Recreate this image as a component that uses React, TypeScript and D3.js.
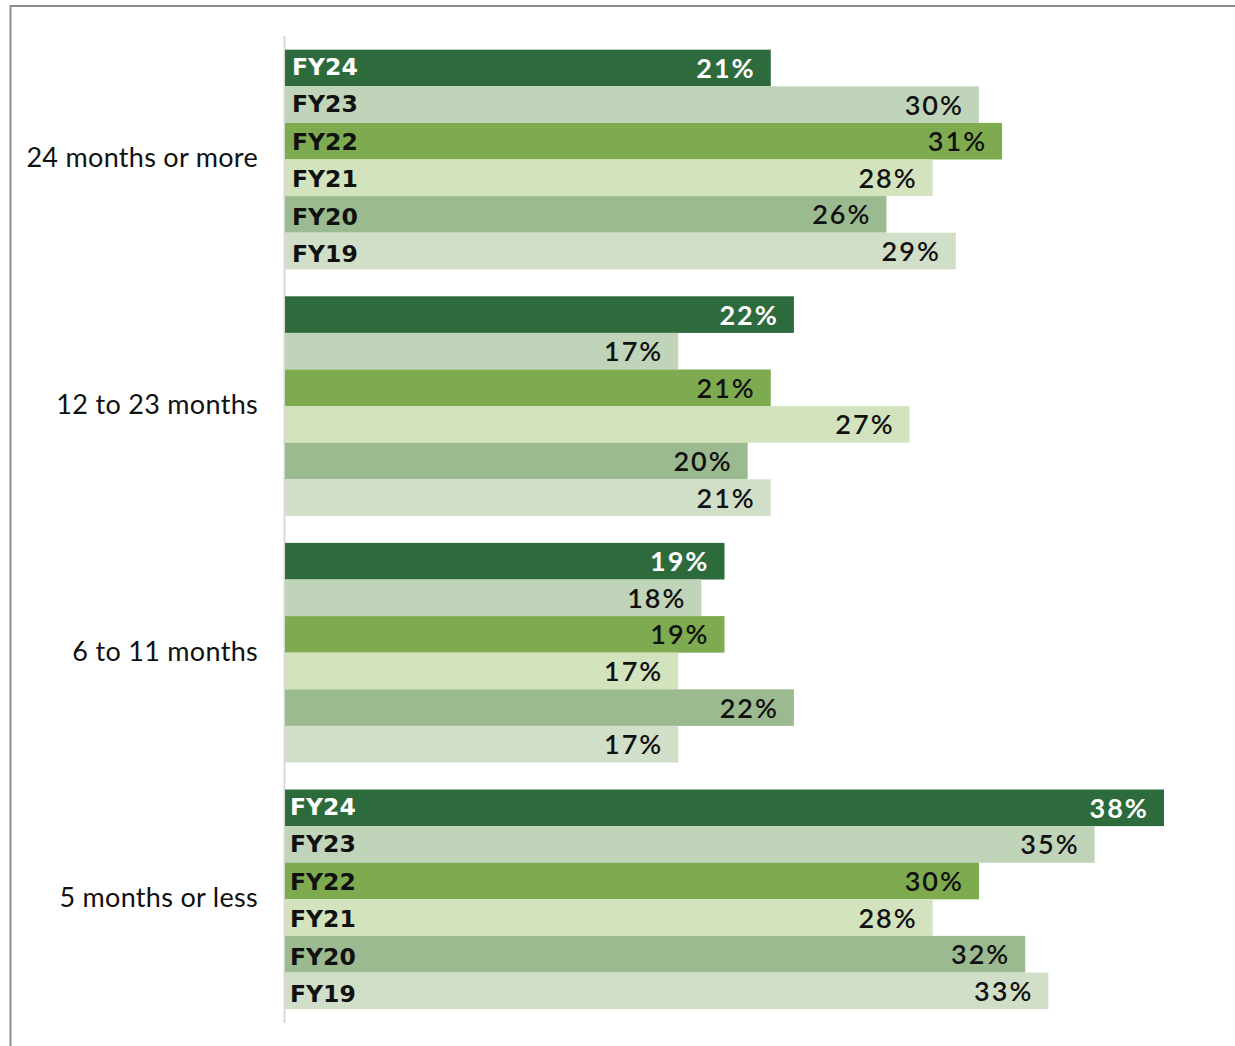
import React from "react";
import * as d3 from "d3";

const categories = ["24 months or more", "12 to 23 months", "6 to 11 months", "5 months or less"];
const years = ["FY24", "FY23", "FY22", "FY21", "FY20", "FY19"];
const values: number[][] = [
  [21, 30, 31, 28, 26, 29],
  [22, 17, 21, 27, 20, 21],
  [19, 18, 19, 17, 22, 17],
  [38, 35, 30, 28, 32, 33],
];
const yearColors = ["#2d6a3c", "#c0d4b9", "#7eab4f", "#d2e3bd", "#9bba8f", "#d2dfc8"];
const showYearLabels = [true, false, false, true];

const W = 1235;
const H = 1046;

export default function App() {
  const x = d3.scaleLinear().domain([0, 38]).range([285, 1164]);
  const yGroup = d3
    .scaleBand<string>()
    .domain(categories)
    .range([49.7, 1009.1])
    .paddingInner(0.1095)
    .paddingOuter(0);
  const yInner = d3.scaleBand<string>().domain(years).range([0, yGroup.bandwidth()]).padding(0);
  const bh = yInner.bandwidth();
  const font = "Lato, 'Noto Sans', sans-serif";

  return (
    <svg
      width={W}
      height={H}
      style={{ position: "absolute", left: 0, top: 0, background: "#fff" }}
      fontFamily={font}
    >
      <rect x={0} y={0} width={W} height={H} fill="#fff" />
      <line x1={10.5} y1={6} x2={W} y2={6} stroke="#8c8c8c" strokeWidth={2} />
      <line x1={10.5} y1={5} x2={10.5} y2={H} stroke="#8c8c8c" strokeWidth={2} />
      <line x1={284.5} y1={36} x2={284.5} y2={1023} stroke="#d9d9d9" strokeWidth={2} />
      {categories.map((cat, gi) => {
        const gy = yGroup(cat)!;
        return (
          <g key={cat}>
            <text
              x={258}
              y={gy + yGroup.bandwidth() / 2 + 8}
              textAnchor="end"
              fontSize={27}
              letterSpacing={0.3}
              fill="#111"
            >
              {cat}
            </text>
            {years.map((yr, i) => {
              const v = values[gi][i];
              const by = gy + yInner(yr)!;
              const x1 = x(v);
              const cy = by + bh / 2;
              const white = i === 0;
              return (
                <g key={yr}>
                  <rect x={x(0)} y={by} width={x1 - x(0)} height={bh} fill={yearColors[i]} />
                  {showYearLabels[gi] && (
                    <text
                      x={gi === 0 ? 292 : 290}
                      y={cy + 7 + i * 0.9}
                      fontSize={23.5}
                      fontWeight={700}
                      fontFamily="'DejaVu Sans', sans-serif"
                      fill={white ? "#fff" : "#111"}
                    >
                      {yr}
                    </text>
                  )}
                  <text
                    x={x1 - 15}
                    y={cy + 10}
                    textAnchor="end"
                    fontSize={27}
                    fontWeight={white ? 700 : 600}
                    letterSpacing={2}
                    fill={white ? "#fff" : "#111"}
                  >
                    {v}%
                  </text>
                </g>
              );
            })}
          </g>
        );
      })}
    </svg>
  );
}
